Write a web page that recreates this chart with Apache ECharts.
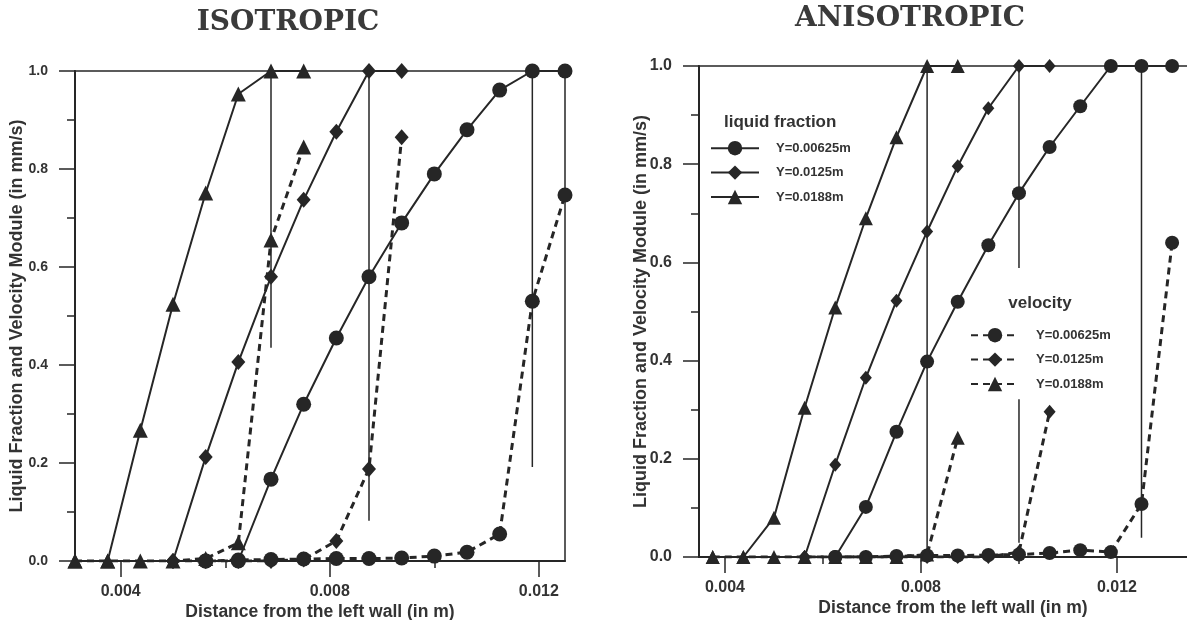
<!DOCTYPE html>
<html>
<head>
<meta charset="utf-8">
<script src="https://cdn.jsdelivr.net/npm/echarts@6/dist/echarts.min.js"></script>
<style>html,body{margin:0;padding:0;background:#fff;}#c{width:1187px;height:620px;}</style>
</head>
<body>
<div id="c"></div>
<script>
// ---------- DATA ----------
// x positions (m) of computational nodes
var xIso = [0.003125, 0.00375, 0.004375, 0.005, 0.005625, 0.00625, 0.006875, 0.0075, 0.008125, 0.00875, 0.009375, 0.01, 0.010625, 0.01125, 0.011875, 0.0125];
var xAniso = [0.00375, 0.004375, 0.005, 0.005625, 0.00625, 0.006875, 0.0075, 0.008125, 0.00875, 0.009375, 0.01, 0.010625, 0.01125, 0.011875, 0.0125, 0.013125];

// ISOTROPIC (start index into xIso, values)
var isoLiqY1Start = 4, isoLiqY1 = [0, 0, 0.167, 0.32, 0.455, 0.58, 0.69, 0.79, 0.88, 0.961, 1.0, 1.0];
var isoLiqY2Start = 3, isoLiqY2 = [0, 0.212, 0.406, 0.58, 0.737, 0.876, 1.0, 1.0];
var isoLiqY3Start = 0, isoLiqY3 = [0, 0, 0.267, 0.524, 0.751, 0.953, 1.0, 1.0];
var isoVelY1Start = 4, isoVelY1 = [0, 0.002, 0.003, 0.004, 0.005, 0.005, 0.006, 0.01, 0.018, 0.055, 0.53, 0.747];
var isoVelY2Start = 3, isoVelY2 = [0, 0, 0, 0, 0.003, 0.041, 0.188, 0.865];
var isoVelY3Start = 0, isoVelY3 = [0, 0, 0, 0, 0.005, 0.037, 0.655, 0.845];
var isoFrontX = [0.006875, 0.00875, 0.011875];
var isoFrontLow = [0.435, 0.082, 0.192];

// ANISOTROPIC (start index into xAniso, values)
var anLiqY1Start = 4, anLiqY1 = [0, 0.102, 0.255, 0.398, 0.52, 0.635, 0.741, 0.835, 0.918, 1.0, 1.0, 1.0];
var anLiqY2Start = 3, anLiqY2 = [0, 0.188, 0.365, 0.522, 0.663, 0.796, 0.914, 1.0, 1.0];
var anLiqY3Start = 0, anLiqY3 = [0, 0, 0.08, 0.304, 0.508, 0.69, 0.855, 1.0, 1.0];
var anVelY1Start = 4, anVelY1 = [0, 0, 0.002, 0.003, 0.003, 0.004, 0.005, 0.008, 0.014, 0.01, 0.108, 0.64];
var anVelY2Start = 3, anVelY2 = [0, 0, 0, 0, 0, 0, 0, 0.01, 0.296];
var anVelY3Start = 0, anVelY3 = [0, 0, 0, 0, 0, 0, 0, 0.005, 0.243];
var anFrontX = [0.008125, 0.01, 0.0125];
var anFrontLow = [0.0, 0.029, 0.039];

var seriesNames = ['Y=0.00625m', 'Y=0.0125m', 'Y=0.0188m'];
var majorXTicks = [0.004, 0.008, 0.012];
var minorXTicks = [0.006, 0.010];

// ---------- HELPERS ----------
function pts(xs, start, vals) { return vals.map(function (v, i) { return [xs[start + i], v]; }); }
var INK = '#262626';
var FONT = 'Liberation Sans';
var symbols = ['circle', 'diamond', 'triangle'];

function mkSeries(grid, name, data, symIdx, dashed, size) {
  var s = symbols[symIdx];
  var sz = s === 'circle' ? size : (s === 'diamond' ? [size - 1, size + 1] : size);
  return {
    type: 'line', name: dashed ? 'v:' + name : name,
    xAxisIndex: grid * 2, yAxisIndex: grid,
    data: data, symbol: s, symbolSize: sz, showSymbol: true,
    lineStyle: { color: INK, width: dashed ? 3 : 2, type: dashed ? [7, 5] : 'solid' },
    itemStyle: { color: INK },
    emphasis: { disabled: true }, animation: false, z: dashed ? 3 : 4
  };
}
function mkFront(grid, x, low) {
  return {
    type: 'line', xAxisIndex: grid * 2, yAxisIndex: grid,
    data: [[x, 1.0], [x, low]], symbol: 'none',
    lineStyle: { color: INK, width: 1.5 }, animation: false, z: 2, silent: true
  };
}

var series = [];
// ISOTROPIC
series.push(mkSeries(0, seriesNames[0], pts(xIso, isoLiqY1Start, isoLiqY1), 0, false, 15));
series.push(mkSeries(0, seriesNames[1], pts(xIso, isoLiqY2Start, isoLiqY2), 1, false, 15));
series.push(mkSeries(0, seriesNames[2], pts(xIso, isoLiqY3Start, isoLiqY3), 2, false, 15));
series.push(mkSeries(0, seriesNames[0], pts(xIso, isoVelY1Start, isoVelY1), 0, true, 15));
series.push(mkSeries(0, seriesNames[1], pts(xIso, isoVelY2Start, isoVelY2), 1, true, 15));
series.push(mkSeries(0, seriesNames[2], pts(xIso, isoVelY3Start, isoVelY3), 2, true, 15));
isoFrontX.forEach(function (x, i) { series.push(mkFront(0, x, isoFrontLow[i])); });
// ANISOTROPIC
series.push(mkSeries(1, seriesNames[0], pts(xAniso, anLiqY1Start, anLiqY1), 0, false, 14));
series.push(mkSeries(1, seriesNames[1], pts(xAniso, anLiqY2Start, anLiqY2), 1, false, 13));
series.push(mkSeries(1, seriesNames[2], pts(xAniso, anLiqY3Start, anLiqY3), 2, false, 14));
series.push(mkSeries(1, seriesNames[0], pts(xAniso, anVelY1Start, anVelY1), 0, true, 14));
series.push(mkSeries(1, seriesNames[1], pts(xAniso, anVelY2Start, anVelY2), 1, true, 13));
series.push(mkSeries(1, seriesNames[2], pts(xAniso, anVelY3Start, anVelY3), 2, true, 14));
anFrontX.forEach(function (x, i) { series.push(mkFront(1, x, anFrontLow[i])); });

function mkXMain(grid, min, max) {
  return {
    type: 'value', gridIndex: grid, min: min, max: max, position: 'bottom',
    name: 'Distance from the left wall (in m)', nameLocation: 'middle', nameGap: 42, nameMoveOverlap: false,
    nameTextStyle: { color: '#333', fontFamily: FONT, fontWeight: 'bold', fontSize: 17.5 },
    axisLine: { show: true, onZero: false, lineStyle: { color: INK, width: 2 } },
    axisTick: { show: true, customValues: majorXTicks, length: 16, lineStyle: { color: INK, width: 1.5 } },
    axisLabel: { show: true, customValues: majorXTicks, margin: 23, formatter: function (v) { return v.toFixed(3); }, color: '#333', fontFamily: FONT, fontWeight: 'bold', fontSize: 16 },
    splitLine: { show: false }
  };
}
function mkXMinor(grid, min, max) {
  return {
    type: 'value', gridIndex: grid, min: min, max: max, position: 'bottom', offset: 0,
    axisLine: { show: false },
    axisTick: { show: true, customValues: minorXTicks, length: 7, lineStyle: { color: INK, width: 1.5 } },
    axisLabel: { show: false }, splitLine: { show: false }
  };
}
function mkY(grid, labelSize) {
  return {
    type: 'value', gridIndex: grid, min: 0, max: 1, interval: 0.2,
    name: 'Liquid Fraction and Velocity Module (in mm/s)', nameLocation: 'middle', nameGap: 49, nameMoveOverlap: false,
    nameTextStyle: { color: '#333', fontFamily: FONT, fontWeight: 'bold', fontSize: 18 },
    axisLine: { show: true, onZero: false, lineStyle: { color: INK, width: 2 } },
    axisTick: { show: true, length: 16, lineStyle: { color: INK, width: 1.5 } },
    minorTick: { show: true, splitNumber: 2, length: 8, lineStyle: { color: INK, width: 1.5 } },
    axisLabel: { margin: 27, formatter: function (v) { return v.toFixed(1); }, color: '#333', fontFamily: FONT, fontWeight: 'bold', fontSize: labelSize },
    splitLine: { show: false }, minorSplitLine: { show: false }
  };
}

var option = {
  backgroundColor: '#ffffff',
  animation: false,
  grid: [
    { left: 75, top: 71, width: 490, height: 490, show: true, borderColor: INK, borderWidth: 1.5, backgroundColor: 'transparent', containLabel: false, outerBoundsMode: 'none' },
    { left: 699, top: 66, width: 508, height: 491, show: true, borderColor: INK, borderWidth: 1.5, backgroundColor: 'transparent', containLabel: false, outerBoundsMode: 'none' }
  ],
  xAxis: [
    mkXMain(0, 0.003125, 0.0125), mkXMinor(0, 0.003125, 0.0125),
    mkXMain(1, 0.00347, 0.013837), mkXMinor(1, 0.00347, 0.013837)
  ],
  yAxis: [mkY(0, 14), mkY(1, 16)],
  legend: [
    {
      orient: 'vertical', left: 710, top: 141, padding: 0, itemWidth: 48, itemHeight: 18, itemGap: 10,
      selectedMode: false, data: seriesNames,
      textStyle: { color: '#333', fontFamily: FONT, fontWeight: 'bold', fontSize: 13, padding: [0, 0, 0, 12] }
    },
    {
      orient: 'vertical', left: 962, top: 268, padding: [60, 10, 8, 8], itemWidth: 48, itemHeight: 18, itemGap: 10,
      backgroundColor: '#ffffff', selectedMode: false,
      data: seriesNames.map(function (n) { return 'v:' + n; }),
      formatter: function (n) { return n.replace('v:', ''); },
      textStyle: { color: '#333', fontFamily: FONT, fontWeight: 'bold', fontSize: 13, padding: [0, 0, 0, 12] }
    }
  ],
  graphic: [
    { type: 'text', x: 288, y: 23, z: 100, style: { text: 'ISOTROPIC', textAlign: 'center', textVerticalAlign: 'middle', font: 'bold 28px "DejaVu Serif"', fill: '#3a3a3a' } },
    { type: 'text', x: 910, y: 19, z: 100, style: { text: 'ANISOTROPIC', textAlign: 'center', textVerticalAlign: 'middle', font: 'bold 28px "DejaVu Serif"', fill: '#3a3a3a' } },
    { type: 'text', x: 724, y: 122, z: 100, style: { text: 'liquid fraction', textAlign: 'left', textVerticalAlign: 'middle', font: 'bold 17px "Liberation Sans"', fill: '#333' } },
    { type: 'text', x: 1040, y: 303, z: 100, style: { text: 'velocity', textAlign: 'center', textVerticalAlign: 'middle', font: 'bold 17px "Liberation Sans"', fill: '#333' } }
  ],
  series: series
};
var chart = echarts.init(document.getElementById('c'), null, { renderer: 'canvas' });
chart.setOption(option);
</script>
</body>
</html>
